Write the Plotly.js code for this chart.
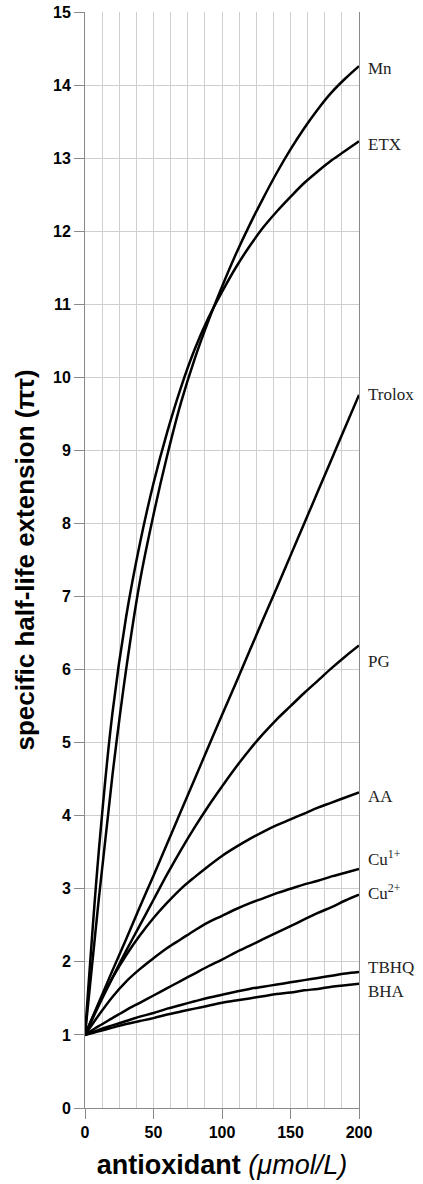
<!DOCTYPE html>
<html>
<head>
<meta charset="utf-8">
<script src="https://cdn.plot.ly/plotly-3.0.1.min.js"></script>
<style>html,body{margin:0;padding:0;background:#fff;}#chart{width:423px;height:1184px;}</style>
</head>
<body>
<div id="chart"></div>
<script>
var conc = [0,10,20,30,40,50,60,70,80,90,100,110,120,130,140,150,160,170,180,190,200];

var seriesNames = ["Mn","ETX","Trolox","PG","AA","Cu<sup>1+</sup>","Cu<sup>2+</sup>","TBHQ","BHA"];

var mn     = [1,2.85,4.55,6.0,7.2,8.12,8.93,9.65,10.25,10.77,11.24,11.68,12.08,12.45,12.8,13.12,13.41,13.67,13.9,14.09,14.26];
var etx    = [1,3.5,5.4,6.72,7.72,8.55,9.25,9.86,10.38,10.81,11.17,11.5,11.79,12.05,12.27,12.47,12.66,12.82,12.97,13.1,13.23];
var trolox = [1,1.44,1.88,2.31,2.75,3.18,3.62,4.06,4.5,4.94,5.38,5.81,6.25,6.69,7.12,7.56,8.0,8.44,8.88,9.32,9.76];
var pg     = [1,1.4,1.78,2.15,2.5,2.85,3.2,3.53,3.84,4.13,4.4,4.66,4.9,5.12,5.32,5.5,5.68,5.85,6.02,6.18,6.33];
var aa     = [1,1.42,1.78,2.09,2.36,2.6,2.81,3.0,3.16,3.31,3.45,3.57,3.68,3.78,3.87,3.95,4.03,4.11,4.18,4.25,4.32];
var cu1    = [1,1.27,1.52,1.73,1.9,2.05,2.19,2.31,2.43,2.54,2.63,2.72,2.8,2.87,2.94,3.0,3.06,3.11,3.17,3.22,3.27];
var cu2    = [1,1.12,1.23,1.34,1.44,1.54,1.64,1.74,1.84,1.94,2.03,2.13,2.22,2.31,2.4,2.49,2.58,2.67,2.75,2.84,2.92];
var tbhq   = [1,1.07,1.13,1.19,1.25,1.3,1.36,1.41,1.46,1.51,1.55,1.59,1.63,1.66,1.69,1.72,1.75,1.78,1.81,1.84,1.86];
var bha    = [1,1.05,1.1,1.15,1.19,1.23,1.28,1.32,1.36,1.4,1.44,1.47,1.5,1.53,1.56,1.58,1.61,1.63,1.66,1.68,1.70];

var labelY = [14.22,13.18,9.76,6.11,4.26,3.42,2.95,1.92,1.6];

var allSeries = [mn,etx,trolox,pg,aa,cu1,cu2,tbhq,bha];

var traces = allSeries.map(function(vals, i){
  return {
    x: conc, y: vals, type: 'scatter', mode: 'lines',
    name: seriesNames[i],
    line: {color: '#000', width: 2.5, shape: 'spline', smoothing: 1},
    hoverinfo: 'skip'
  };
});

var annotations = seriesNames.map(function(n, i){
  return {
    x: 200, y: labelY[i], xref: 'x', yref: 'y',
    text: n, showarrow: false, xanchor: 'left', yanchor: 'middle', xshift: 7,
    font: {family: 'Liberation Serif, Times New Roman, serif', size: 17, color: '#222'}
  };
});

var layout = {
  width: 423, height: 1184,
  margin: {l: 85, r: 64, t: 12, b: 76},
  paper_bgcolor: '#fff', plot_bgcolor: '#fff',
  showlegend: false,
  xaxis: {
    range: [0, 200], tick0: 0, dtick: 50,
    showgrid: true, gridcolor: '#cfcfcf', gridwidth: 1,
    minor: {dtick: 12.5, tick0: 0, showgrid: true, gridcolor: '#cfcfcf', gridwidth: 1, ticks: ''},
    showline: true, linecolor: '#8a8a8a', linewidth: 1, mirror: false,
    ticks: 'outside', ticklen: 10, tickcolor: '#8a8a8a', tickwidth: 1,
    zeroline: false,
    tickfont: {family: 'Liberation Sans, Arial, sans-serif', size: 16, color: '#000', weight: 'bold'},
    title: {
      text: '<b>antioxidant</b> <i>(μmol/L)</i>',
      font: {family: 'Liberation Sans, Arial, sans-serif', size: 27, color: '#000'},
      standoff: 14
    }
  },
  yaxis: {
    range: [0, 15], tick0: 0, dtick: 1,
    showgrid: true, gridcolor: '#cfcfcf', gridwidth: 1,
    showline: true, linecolor: '#8a8a8a', linewidth: 1, mirror: true,
    ticks: 'outside', ticklen: 10, tickcolor: '#8a8a8a', tickwidth: 1,
    zeroline: false,
    tickfont: {family: 'Liberation Sans, Arial, sans-serif', size: 16, color: '#000', weight: 'bold'},
    title: {
      text: '<b>specific half-life extension (πτ)</b>',
      font: {family: 'Liberation Sans, Arial, sans-serif', size: 26, color: '#000'},
      standoff: 10
    }
  },
  annotations: annotations
};

Plotly.newPlot('chart', traces, layout, {staticPlot: true, displayModeBar: false});
</script>
</body>
</html>
